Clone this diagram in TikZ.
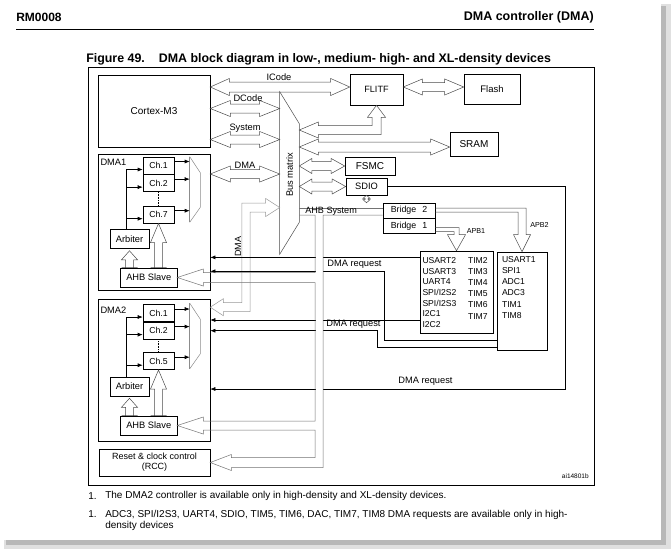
\documentclass[tikz,border=0pt]{standalone}
\usepackage{fontspec}
\setmainfont{Liberation Sans}
\usetikzlibrary{positioning,calc,arrows.meta}

% hollow bus arrow, left to right: #2 left tip, #3 right tip (x only),
% #4 half shaft, #5 half head, #6 left head length, #7 right head length
\newcommand{\hbus}[7][]{%
  \draw[bus,#1] let \p1=(#2), \p2=(#3) in
    (\x1,\y1) -- (\x1+#6,\y1+#5) -- (\x1+#6,\y1+#4) -- (\x2-#7,\y1+#4)
    -- (\x2-#7,\y1+#5) -- (\x2,\y1) -- (\x2-#7,\y1-#5) -- (\x2-#7,\y1-#4)
    -- (\x1+#6,\y1-#4) -- (\x1+#6,\y1-#5) -- cycle;}
% same, top to bottom: #2 top tip, #3 bottom tip (y only)
\newcommand{\vbus}[7][]{%
  \draw[bus,#1] let \p1=(#2), \p2=(#3) in
    (\x1,\y1) -- (\x1+#5,\y1-#6) -- (\x1+#4,\y1-#6) -- (\x1+#4,\y2+#7)
    -- (\x1+#5,\y2+#7) -- (\x1,\y2) -- (\x1-#5,\y2+#7) -- (\x1-#4,\y2+#7)
    -- (\x1-#4,\y1-#6) -- (\x1-#5,\y1-#6) -- cycle;}

\begin{document}
\begin{tikzpicture}[x=1pt, y=-1pt, semithick, >={Latex[length=5pt,width=4pt]}]

    %
    % Styles for blocks, buses and request lines
    %
    \tikzstyle{block} = [draw, rectangle, inner sep=0pt, align=center,
                         font={\fontsize{9.3}{10}\selectfont}]
    \tikzstyle{chan} = [block, minimum width=31pt, minimum height=17pt,
                        font={\fontsize{8.7}{10}\selectfont}]
    \tikzstyle{periph} = [inner sep=0pt, align=left, anchor=north west]
    \tikzstyle{bus} = [draw=black!70, line width=0.5pt]
    \tikzstyle{ahbBus} = [bus, draw=black!55]
    \tikzstyle{dmaBus} = [bus, draw=black!40]
    \tikzstyle{mux} = [draw=black!45, line width=0.5pt]
    \tikzstyle{dmaReq} = [black, ->]
    \tikzstyle{busLabel} = [inner sep=0pt, font={\fontsize{9.3}{10}\selectfont}]
    \tikzstyle{smallLabel} = [inner sep=0pt, font={\fontsize{7.2}{8}\selectfont}]
    \tikzstyle{noteText} = [inner sep=0pt, anchor=west, font={\fontsize{10}{11}\selectfont}]

    %
    % Page, header and frame
    %
    \useasboundingbox (0,0) rectangle (671,549);
    \fill[black!12] (4,4) rectangle (671,549);
    \fill[black!28] (6,6) rectangle (666,545);
    \fill[white] (0,0) rectangle (661,540);
    \node[anchor=west, inner sep=0pt, font={\fontsize{12}{14}\selectfont\bfseries}, name=docRef] at (16,17) {RM0008};
    \node[anchor=east, inner sep=0pt, font={\fontsize{12.5}{14}\selectfont\bfseries}, name=chapter] at (594,17) {DMA controller (DMA)};
    \draw[thin] (16,29) -- (594,29);
    \node[anchor=west, inner sep=0pt, font={\fontsize{12.4}{14}\selectfont\bfseries}, name=caption] at (86,59)
      {Figure 49.\hspace{14pt}DMA block diagram in low-, medium- high- and XL-density devices};
    \draw (88,67) rectangle (594,485);

    %
    % Position blocks
    %
    \node[block, name=cortex, minimum width=112pt, minimum height=72pt, font={\fontsize{10}{11}\selectfont}] at (154,111) {Cortex-M3};
    \node[block, name=flitf, minimum width=53pt, minimum height=31pt, font={\fontsize{9.1}{10}\selectfont}] at (376.5,89.5) {FLITF};
    \node[block, name=flash, minimum width=56pt, minimum height=30pt, font={\fontsize{9.5}{10}\selectfont}] at (492,89) {Flash};
    \node[block, name=sram, minimum width=48pt, minimum height=24pt, font={\fontsize{10}{11}\selectfont}] at (474,144) {SRAM};
    \node[block, name=fsmc, minimum width=50pt, minimum height=18pt, font={\fontsize{10}{11}\selectfont}] at (370,166) {FSMC};
    \node[block, name=sdio, minimum width=41pt, minimum height=17pt] at (366.5,186.5) {SDIO};
    \node[block, name=bridge2, minimum width=52pt, minimum height=15pt, font={\fontsize{8.8}{10}\selectfont}] at (409,210.5) {Bridge\hspace{6pt}2};
    \node[block, name=bridge1, minimum width=52pt, minimum height=15pt, font={\fontsize{8.8}{10}\selectfont}, below=0pt of bridge2] {Bridge\hspace{6pt}1};
    \node[block, name=apb1, minimum width=73pt, minimum height=82pt] at (456.5,292) {};
    \node[block, name=apb2, minimum width=50pt, minimum height=98pt] at (522,301) {};
    \node[periph, name=apb1left, font={\fontsize{8.6}{10.6}\selectfont}] at ([xshift=2.5pt,yshift=-6.6pt]apb1.north west)
      {USART2\\USART3\\UART4\\SPI/I2S2\\SPI/I2S3\\I2C1\\I2C2};
    \node[periph, name=apb1right, font={\fontsize{8.6}{11.2}\selectfont}] at ([xshift=48pt,yshift=-6pt]apb1.north west)
      {TIM2\\TIM3\\TIM4\\TIM5\\TIM6\\TIM7};
    \node[periph, name=apb2list, font={\fontsize{8.6}{11.3}\selectfont}] at ([xshift=5pt,yshift=-4pt]apb2.north west)
      {USART1\\SPI1\\ADC1\\ADC3\\TIM1\\TIM8};

    % bus matrix
    \node[name=busmatrix, inner sep=0pt, minimum width=19pt, minimum height=162pt] at (289.5,173) {};
    \draw[bus] (busmatrix.north west) -- ([yshift=-32pt]busmatrix.north east)
      -- ([yshift=32pt]busmatrix.south east) -- (busmatrix.south west) -- cycle;
    \node[busLabel, rotate=90, name=bmLabel] at (289.5,175) {Bus matrix};

    % DMA1 controller
    \node[block, name=dma1, minimum width=112pt, minimum height=136pt] at (154,222) {};
    \node[busLabel, anchor=west, name=dma1Label] at ([xshift=2.5pt,yshift=-8.5pt]dma1.north west) {DMA1};
    \node[chan, name=ch11] at (158.5,165.5) {Ch.1};
    \node[chan, name=ch12, below=0pt of ch11] {Ch.2};
    \node[chan, name=ch17, below=14pt of ch12] {Ch.7};
    \node[block, name=arb1, minimum width=39pt, minimum height=19pt] at (129.5,239) {Arbiter};
    \node[block, name=ahb1, minimum width=56.5pt, minimum height=19pt] at (148.75,277.5) {AHB Slave};
    \node[name=mux1, inner sep=0pt, minimum width=10pt, minimum height=65pt] at (195,189.5) {};

    % DMA2 controller
    \node[block, name=dma2, minimum width=112pt, minimum height=142pt] at (154,370) {};
    \node[busLabel, anchor=west, name=dma2Label] at ([xshift=2.5pt,yshift=-12pt]dma2.north west) {DMA2};
    \node[chan, name=ch21] at (158.5,313) {Ch.1};
    \node[chan, name=ch22, below=0pt of ch21] {Ch.2};
    \node[chan, name=ch25, below=13pt of ch22] {Ch.5};
    \node[block, name=arb2, minimum width=39pt, minimum height=19pt] at (129.5,386.5) {Arbiter};
    \node[block, name=ahb2, minimum width=56.5pt, minimum height=19pt] at (148.75,425.5) {AHB Slave};
    \node[name=mux2, inner sep=0pt, minimum width=10pt, minimum height=65pt] at (195,336) {};

    \node[block, name=rcc, minimum width=111pt, minimum height=27pt, font={\fontsize{9}{10}\selectfont}] at (154.5,462.5)
      {Reset \& clock control\\(RCC)};

    %
    % Multiplexers and channel links
    %
    \draw[mux] (mux1.north west) -- ([yshift=-16pt]mux1.north east) -- ([yshift=15pt]mux1.south east) -- (mux1.south west);
    \draw[mux, line width=1.4pt] (mux1.north west) -- (mux1.south west);
    \draw[mux] (mux2.north west) -- ([yshift=-16pt]mux2.north east) -- ([yshift=15pt]mux2.south east) -- (mux2.south west);
    \draw[mux, line width=1.4pt] (mux2.north west) -- (mux2.south west);

    \draw[->] ([yshift=4pt]ch11.east) -- ([yshift=4pt]ch11.east -| mux1.west);
    \draw[->] ([yshift=4pt]ch12.east) -- ([yshift=4pt]ch12.east -| mux1.west);
    \draw[->] ([yshift=4pt]ch17.east) -- ([yshift=4pt]ch17.east -| mux1.west);
    \draw[->] ([xshift=-3.5pt]arb1.north) |- ([yshift=-4pt]ch11.west);
    \draw[->] ([xshift=-3.5pt]arb1.north) |- ([yshift=-4pt]ch12.west);
    \draw[->] ([xshift=-3.5pt]arb1.north) |- ([yshift=-4pt]ch17.west);
    \draw[densely dotted] (ch12.south) -- (ch17.north);

    \draw[->] ([yshift=4pt]ch21.east) -- ([yshift=4pt]ch21.east -| mux2.west);
    \draw[->] ([yshift=4pt]ch22.east) -- ([yshift=4pt]ch22.east -| mux2.west);
    \draw[->] ([yshift=4pt]ch25.east) -- ([yshift=4pt]ch25.east -| mux2.west);
    \draw[->] ([xshift=-3.5pt]arb2.north) |- ([yshift=-4pt]ch21.west);
    \draw[->] ([xshift=-3.5pt]arb2.north) |- ([yshift=-4pt]ch22.west);
    \draw[->] ([xshift=-3.5pt]arb2.north) |- ([yshift=-4pt]ch25.west);
    \draw[densely dotted] (ch22.south) -- (ch25.north);

    \vbus{[yshift=-2pt]arb1.south}{ahb1.north}{4pt}{8pt}{9pt}{0pt}
    \vbus{ch17.south}{ahb1.north}{4pt}{8pt}{19pt}{0pt}
    \vbus{[yshift=-2pt]arb2.south}{ahb2.north}{4pt}{8pt}{9pt}{0pt}
    \vbus{ch25.south}{ahb2.north}{4pt}{8pt}{19pt}{0pt}

    %
    % Buses round the bus matrix
    %
    \hbus{[yshift=2.5pt]cortex.east |- flitf.west}{flitf.west}{5pt}{8.5pt}{19pt}{19pt}
    \hbus{[yshift=2.5pt]cortex.east}{busmatrix.west}{4.5pt}{8pt}{20pt}{20pt}
    \hbus{[yshift=-28.5pt]cortex.east}{busmatrix.west}{4.5pt}{8pt}{20pt}{20pt}
    \hbus{[yshift=48pt]dma1.east}{busmatrix.west}{4.5pt}{8pt}{20pt}{20pt}
    \hbus{[yshift=-3pt]busmatrix.east |- sram.west}{sram.west}{5pt}{8pt}{19pt}{19pt}
    \hbus{busmatrix.east |- fsmc.west}{fsmc.west}{4.5pt}{7.5pt}{12.5pt}{13.5pt}
    \hbus{busmatrix.east |- sdio.west}{sdio.west}{4.5pt}{7.5pt}{12.5pt}{13.5pt}
    \hbus{[yshift=2.5pt]flitf.east}{flash.west}{4.5pt}{8pt}{19pt}{19pt}
    \vbus{sdio.south}{bridge2.north}{1.5pt}{3.5pt}{3pt}{3pt}

    \node[busLabel, name=icodeLabel] at (279,77) {ICode};
    \node[busLabel, name=dcodeLabel] at (248,98) {DCode};
    \node[busLabel, name=systemLabel] at (245,128) {System};
    \node[busLabel, name=dmaLabel] at (245,165) {DMA};

    % bus to the FLITF
    \coordinate (flitfPort) at ([yshift=43pt]busmatrix.east);
    \draw[bus] (flitfPort) -- ++(19,-8) -- ++(0,3.5) -- ([xshift=-4.5pt,yshift=4.5pt]flitfPort -| flitf.south)
      -- ([xshift=-4.5pt,yshift=-12pt]flitf.south) -- ++(-4.5,0) -- (flitf.south) -- ++(9,12) -- ++(-4.5,0)
      -- ([xshift=4.5pt,yshift=-4.5pt]flitfPort -| flitf.south) -- ([xshift=19pt,yshift=-4.5pt]flitfPort) -- ++(0,3.5) -- cycle;

    % DMA2 master port
    \coordinate (dmaTop) at ([yshift=-34.5pt]busmatrix.west);
    \coordinate (dmaBot) at ([yshift=-8.5pt]dma2.north east);
    \coordinate (dmaTube) at (246,246.5);
    \draw[dmaBus] (dmaTop) -- ++(-14,-9) -- ++(0,4.5) -- ([xshift=-4.2pt,yshift=4.5pt]dmaTop -| dmaTube)
      -- ([xshift=-4.2pt,yshift=4.5pt]dmaBot -| dmaTube) -- ([xshift=13pt,yshift=4.5pt]dmaBot) -- ++(0,-4)
      -- (dmaBot) -- ++(13,8.5) -- ++(0,-4) -- ([xshift=4.2pt,yshift=-4.5pt]dmaBot -| dmaTube)
      -- ([xshift=4.2pt,yshift=-4.5pt]dmaTop -| dmaTube) -- ([xshift=-14pt,yshift=-4.5pt]dmaTop) -- ++(0,4.5) -- cycle;
    \node[busLabel, rotate=90, name=dmaTubeLabel, font={\fontsize{9}{10}\selectfont}] at ([xshift=-8pt]dmaTube) {DMA};

    % APB buses
    \draw[bus] ([yshift=-1.5pt]bridge1.east) -- ([xshift=2.5pt,yshift=-1.5pt]bridge1.east -| apb1.north)
      -- ([xshift=2.5pt,yshift=16pt]apb1.north) -- ++(6.5,0) -- (apb1.north) -- ++(-9,-16) -- ++(6.5,0)
      -- ([xshift=-2.5pt,yshift=-5.5pt]bridge1.east -| apb1.north) -- ([yshift=-5.5pt]bridge1.east);
    \draw[bus] ([yshift=2.5pt]bridge2.east) -- ([xshift=4pt,yshift=2.5pt]bridge2.east -| apb2.north)
      -- ([xshift=4pt,yshift=17pt]apb2.north) -- ++(4.5,0) -- (apb2.north) -- ++(-8.5,-17) -- ++(4.5,0)
      -- ([xshift=-4pt,yshift=-1.5pt]bridge2.east -| apb2.north) -- ([yshift=-1.5pt]bridge2.east);
    \node[smallLabel, anchor=west, name=apb1Label] at ([xshift=10pt,yshift=20pt]apb1.north) {APB1};
    \node[smallLabel, anchor=west, name=apb2Label] at ([xshift=8pt,yshift=27pt]apb2.north) {APB2};

    %
    % DMA requests
    %
    \coordinate (reqA1) at ([yshift=-6.7pt]apb1.north west);
    \coordinate (reqA2) at ([yshift=13.3pt]apb1.south west);
    \coordinate (reqB1) at ([yshift=10.5pt]apb2.south west);
    \coordinate (reqB2) at ([yshift=3.5pt]apb2.south west);
    \coordinate (dma1reqB) at ([yshift=19pt]dma1.south east);
    \coordinate (dma2reqB) at ([yshift=-32pt]dma2.north east);
    \coordinate (dma2reqC) at ([yshift=-19pt]dma2.east);

    \draw[dmaReq] (reqA1) -- (reqA1 -| dma1.east);
    \draw[dmaReq] (reqB1) -- ([xshift=2pt]reqB1 -| bridge1.west) -- ([xshift=2pt]dma1reqB -| bridge1.west) -- (dma1reqB);
    \draw[dmaReq] (reqA2) -- (reqA2 -| dma2.east);
    \draw[dmaReq] (reqB2) -- ([xshift=-5.7pt]reqB2 -| bridge1.west) -- ([xshift=-5.7pt]dma2reqB -| bridge1.west) -- (dma2reqB);
    \draw[dmaReq] (sdio.east) -- ([xshift=18pt]sdio.east -| apb2.east) -- ([xshift=18pt]dma2reqC -| apb2.east) -- (dma2reqC);

    \node[busLabel, anchor=west, name=reqLabel1] at (327,264.5) {DMA request};
    \node[busLabel, anchor=west, name=reqLabel2] at (326,324.5) {DMA request};
    \node[busLabel, anchor=west, name=reqLabel3] at (398,381.5) {DMA request};

    %
    % AHB system bus to the slaves
    %
    \coordinate (ahbIn) at (315,215);
    \coordinate (ahbOut) at (323,215);
    \fill[white] ([xshift=0.5pt,yshift=-0.5pt]ahbIn) rectangle ([xshift=-0.5pt,yshift=-4.5pt]rcc.east -| ahbOut);
    \draw[ahbBus] ([yshift=2.5pt]bridge2.west) -- ([yshift=2.5pt]bridge2.west -| busmatrix.east);
    \draw[ahbBus] (ahbIn -| busmatrix.east) -- (ahbIn)
      -- ([yshift=5pt]ahb1.east -| ahbIn) -- ([xshift=26pt,yshift=5pt]ahb1.east)
      -- ++(0,-3.5) -- (ahb1.east) -- ++(26,8.5) -- ++(0,-3.5)
      -- ([yshift=-5pt]ahb1.east -| ahbIn)
      -- ([yshift=4.5pt]ahb2.east -| ahbIn) -- ([xshift=26pt,yshift=4.5pt]ahb2.east)
      -- ++(0,-4) -- (ahb2.east) -- ++(26,8.5) -- ++(0,-4)
      -- ([yshift=-4.5pt]ahb2.east -| ahbIn)
      -- ([yshift=5pt]rcc.east -| ahbIn) -- ([xshift=21pt,yshift=5pt]rcc.east)
      -- ++(0,-3) -- (rcc.east) -- ++(21,8) -- ++(0,-3)
      -- ([yshift=-5pt]rcc.east -| ahbOut) -- (ahbOut) -- (ahbOut -| bridge2.west);
    \node[busLabel, anchor=west, name=ahbLabel, font={\fontsize{9.1}{10}\selectfont}] at (305,211.5) {AHB System};

    \node[inner sep=0pt, anchor=east, name=figId, font={\fontsize{6.5}{7}\selectfont}] at (589,476) {ai14801b};

    %
    % Notes
    %
    \node[noteText, name=noteNum1] at (88,496) {1.};
    \node[noteText, name=note1] at (105,496) {The DMA2 controller is available only in high-density and XL-density devices.};
    \node[noteText, name=noteNum2] at (88,514) {1.};
    \node[noteText, name=note2, anchor=north west, align=left] at (105,509.5)
      {ADC3, SPI/I2S3, UART4, SDIO, TIM5, TIM6, DAC, TIM7, TIM8 DMA requests are available only in high-\\density devices};
\end{tikzpicture}
\end{document}
